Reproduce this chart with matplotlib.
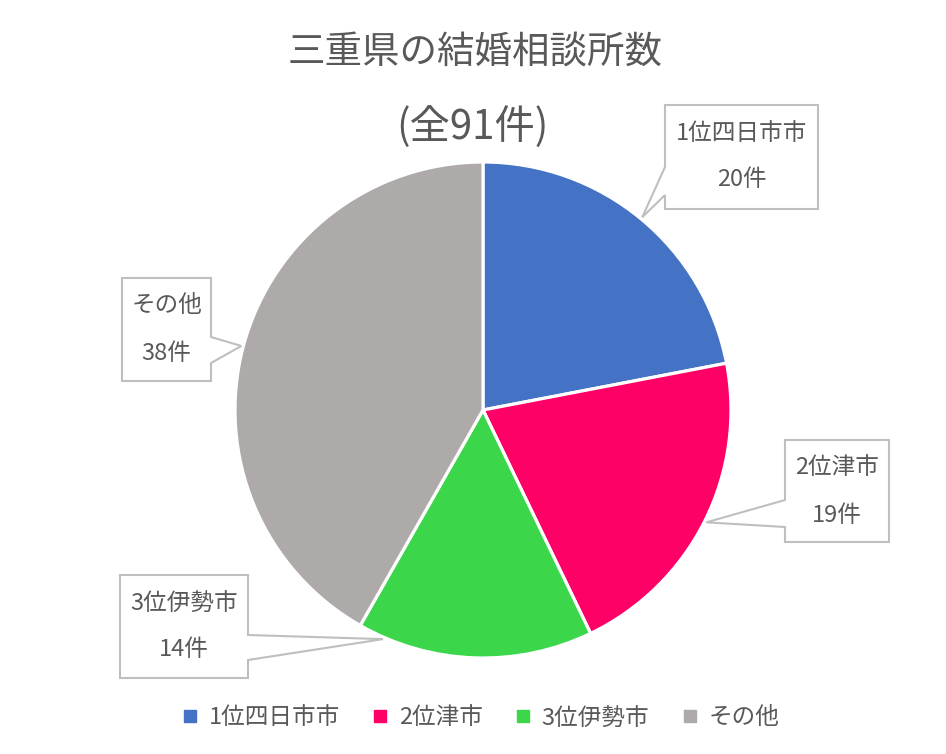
import numpy as np
import matplotlib.pyplot as plt
from matplotlib.patches import Polygon
from matplotlib.lines import Line2D

plt.rcParams['font.family'] = ['Noto Sans CJK JP', 'DejaVu Sans']

labels = ['1位四日市市', '2位津市', '3位伊勢市', 'その他']
counts = [20, 19, 14, 38]
colors = ['#4472C4', '#FF0066', '#3CD64B', '#AEAAAA']
title = '三重県の結婚相談所数'
subtitle = '(全91件)'

W, H = 946, 754
TXT = '#595959'
BOX = '#BFBFBF'


def Y(y):
    # pixel row (from top) -> data y
    return H - y


fig = plt.figure(figsize=(W / 100, H / 100), dpi=100)
ax = fig.add_axes([0, 0, 1, 1])

cx, cy, r = 483, 410, 248
wedges, _ = ax.pie(counts, colors=colors, startangle=90, counterclock=False,
                   center=(cx, Y(cy)), radius=r, frame=True,
                   wedgeprops=dict(edgecolor='white', linewidth=2.3))
ax.set_xlim(0, W)
ax.set_ylim(0, H)
ax.set_aspect('equal')
ax.axis('off')

# callout boxes: (left, top, right, bottom), pointer side, pointer base rows, position in wedge
boxes = [
    ((665, 105, 818, 209), 'left', (167, 195), 0.5),
    ((785, 440, 889, 542), 'left', (500, 527), 0.5),
    ((120, 575, 248, 678), 'right', (635, 660), 0.89),
    ((122, 278, 211, 381), 'right', (337, 363), 0.5),
]

for w, lab, n, (bx, side, (b0, b1), frac) in zip(wedges, labels, counts, boxes):
    x0, y0, x1, y1 = bx
    a = np.deg2rad(w.theta1 + (w.theta2 - w.theta1) * (1 - frac))
    tx = cx + (r + 2) * np.cos(a)
    ty = Y(cy) + (r + 2) * np.sin(a)
    if side == 'left':
        pts = [(x0, Y(y0)), (x1, Y(y0)), (x1, Y(y1)), (x0, Y(y1)),
               (x0, Y(b1)), (tx, ty), (x0, Y(b0))]
    else:
        pts = [(x0, Y(y0)), (x1, Y(y0)), (x1, Y(b0)), (tx, ty),
               (x1, Y(b1)), (x1, Y(y1)), (x0, Y(y1))]
    ax.add_patch(Polygon(pts, closed=True, facecolor='white', edgecolor=BOX,
                         linewidth=1.5, zorder=5))
    mx = (x0 + x1) / 2
    ax.text(mx, Y(y0 + 28), lab, ha='center', va='center', fontsize=17,
            color=TXT, zorder=6)
    ax.text(mx, Y(y0 + 75), f'{n}件', ha='center', va='center', fontsize=17,
            color=TXT, zorder=6)

ax.text(475, Y(52), title, ha='center', va='center', fontsize=27, color=TXT)
ax.text(472, Y(128), subtitle, ha='center', va='center', fontsize=29, color=TXT)

handles = [Line2D([], [], marker='s', linestyle='none', markersize=8,
                  markerfacecolor=c, markeredgecolor=c) for c in colors]
fig.legend(handles, labels, loc='center', bbox_to_anchor=(481 / W, 1 - 718 / H),
           ncol=4, frameon=False, fontsize=17, labelcolor=TXT,
           handlelength=0.6, handletextpad=0.5, columnspacing=1.4)

fig.savefig('out.png', dpi=100)
